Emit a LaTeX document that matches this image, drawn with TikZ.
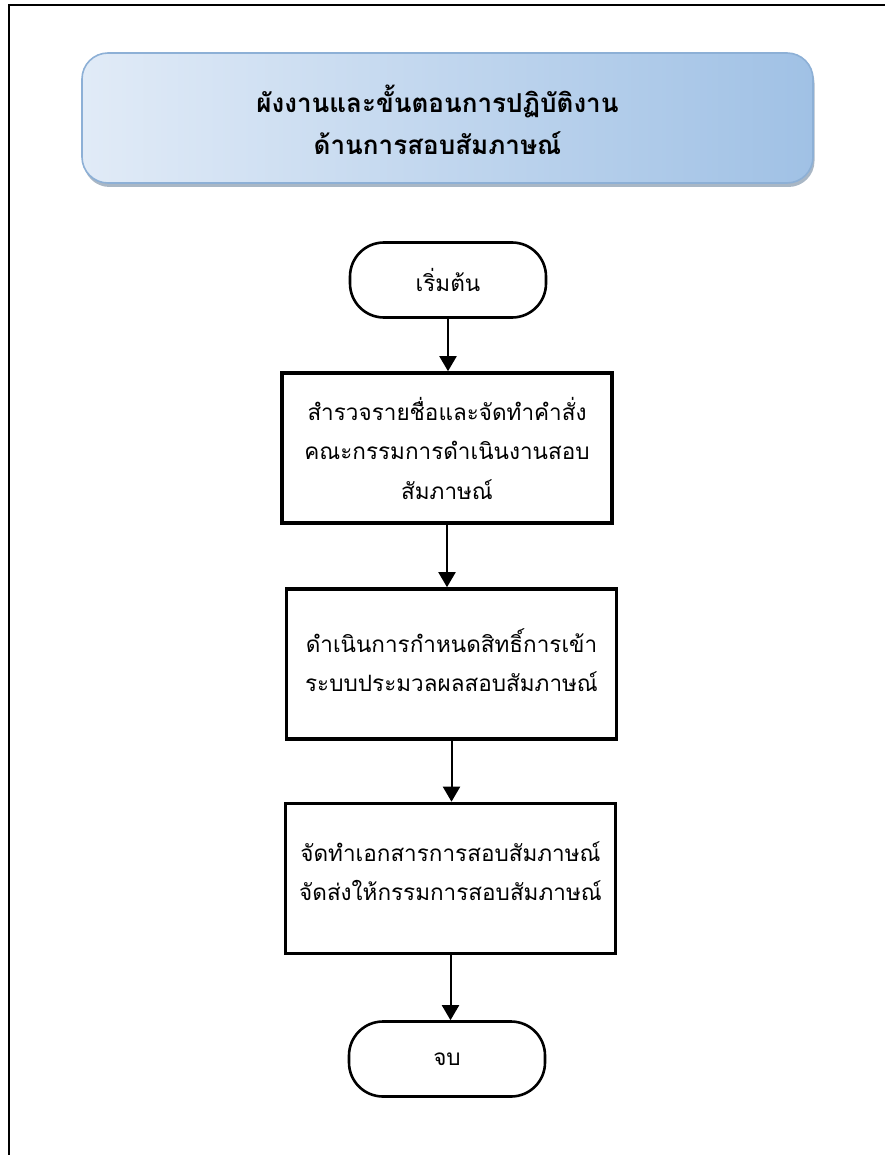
\documentclass[tikz,border=0pt]{standalone}
\usepackage{fontspec}
\newfontfamily\thaifont[Script=Thai]{Loma}
\usetikzlibrary{arrows.meta,shadows}
\definecolor{titledark}{HTML}{A0C1E5}
\definecolor{titlelight}{HTML}{E1EBF7}
\definecolor{titleedge}{HTML}{8DB0D6}
\tikzset{
  terminal/.style={draw, rectangle, rounded corners=34pt, line width=2.6pt,
    minimum width=196pt, minimum height=75pt, font=\thaifont\fontsize{22.5}{40}\selectfont},
  stepbox/.style={draw, rectangle, line width=3.6pt, minimum width=330pt,
    minimum height=150pt},
  steptext/.style={align=center, font=\thaifont\fontsize{22.5}{39.5}\selectfont},
  flow/.style={line width=2pt, -{Triangle[length=15pt,width=17pt]}},
}
\begin{document}
\begin{tikzpicture}[x=1pt,y=-1pt]
  \useasboundingbox (0,0) rectangle (885,1155);
  % page frame (top and left rules)
  \draw[line width=2.2pt] (9,1155) -- (9,5) -- (885,5);
  % title banner with a soft shadow under its lower edge
  \shade[rounded corners=26pt, left color=titlelight, right color=titledark,
    draw=titleedge, line width=1.6pt,
    drop shadow={shadow xshift=1.5pt, shadow yshift=-4pt, opacity=0.55, fill=titleedge!70!black}]
    (82,53) rectangle (813,183);
  \node[font=\thaifont\bfseries\fontsize{26}{42}\selectfont, align=center] (title) at (437.5,120)
    {ผังงานและขั้นตอนการปฏิบัติงาน\\ด้านการสอบสัมภาษณ์};
  % flow
  \node[terminal] (start) at (448,280) {เริ่มต้น};
  \node[stepbox] (s1) at (447,448) {};
  \node[steptext] (s1text) at (s1)
    {สำรวจรายชื่อและจัดทำคำสั่ง\\คณะกรรมการดำเนินงานสอบ\\สัมภาษณ์};
  \node[stepbox] (s2) at (451.5,664) {};
  \node[steptext, yshift=4pt] (s2text) at (s2)
    {ดำเนินการกำหนดสิทธิ์การเข้า\\ระบบประมวลผลสอบสัมภาษณ์};
  \node[stepbox] (s3) at (450.5,878.5) {};
  \node[steptext, yshift=7.5pt] (s3text) at (s3)
    {จัดทำเอกสารการสอบสัมภาษณ์\\จัดส่งให้กรรมการสอบสัมภาษณ์};
  \node[terminal] (end) at (447,1059) {จบ};
  \draw[flow] (start.south) -- (start.south |- s1.north);
  \draw[flow] (s1.south) -- (s1.south |- s2.north);
  \draw[flow] (s2.south) -- (s2.south |- s3.north);
  \draw[flow] (s3.south) -- (s3.south |- end.north);
\end{tikzpicture}
\end{document}
